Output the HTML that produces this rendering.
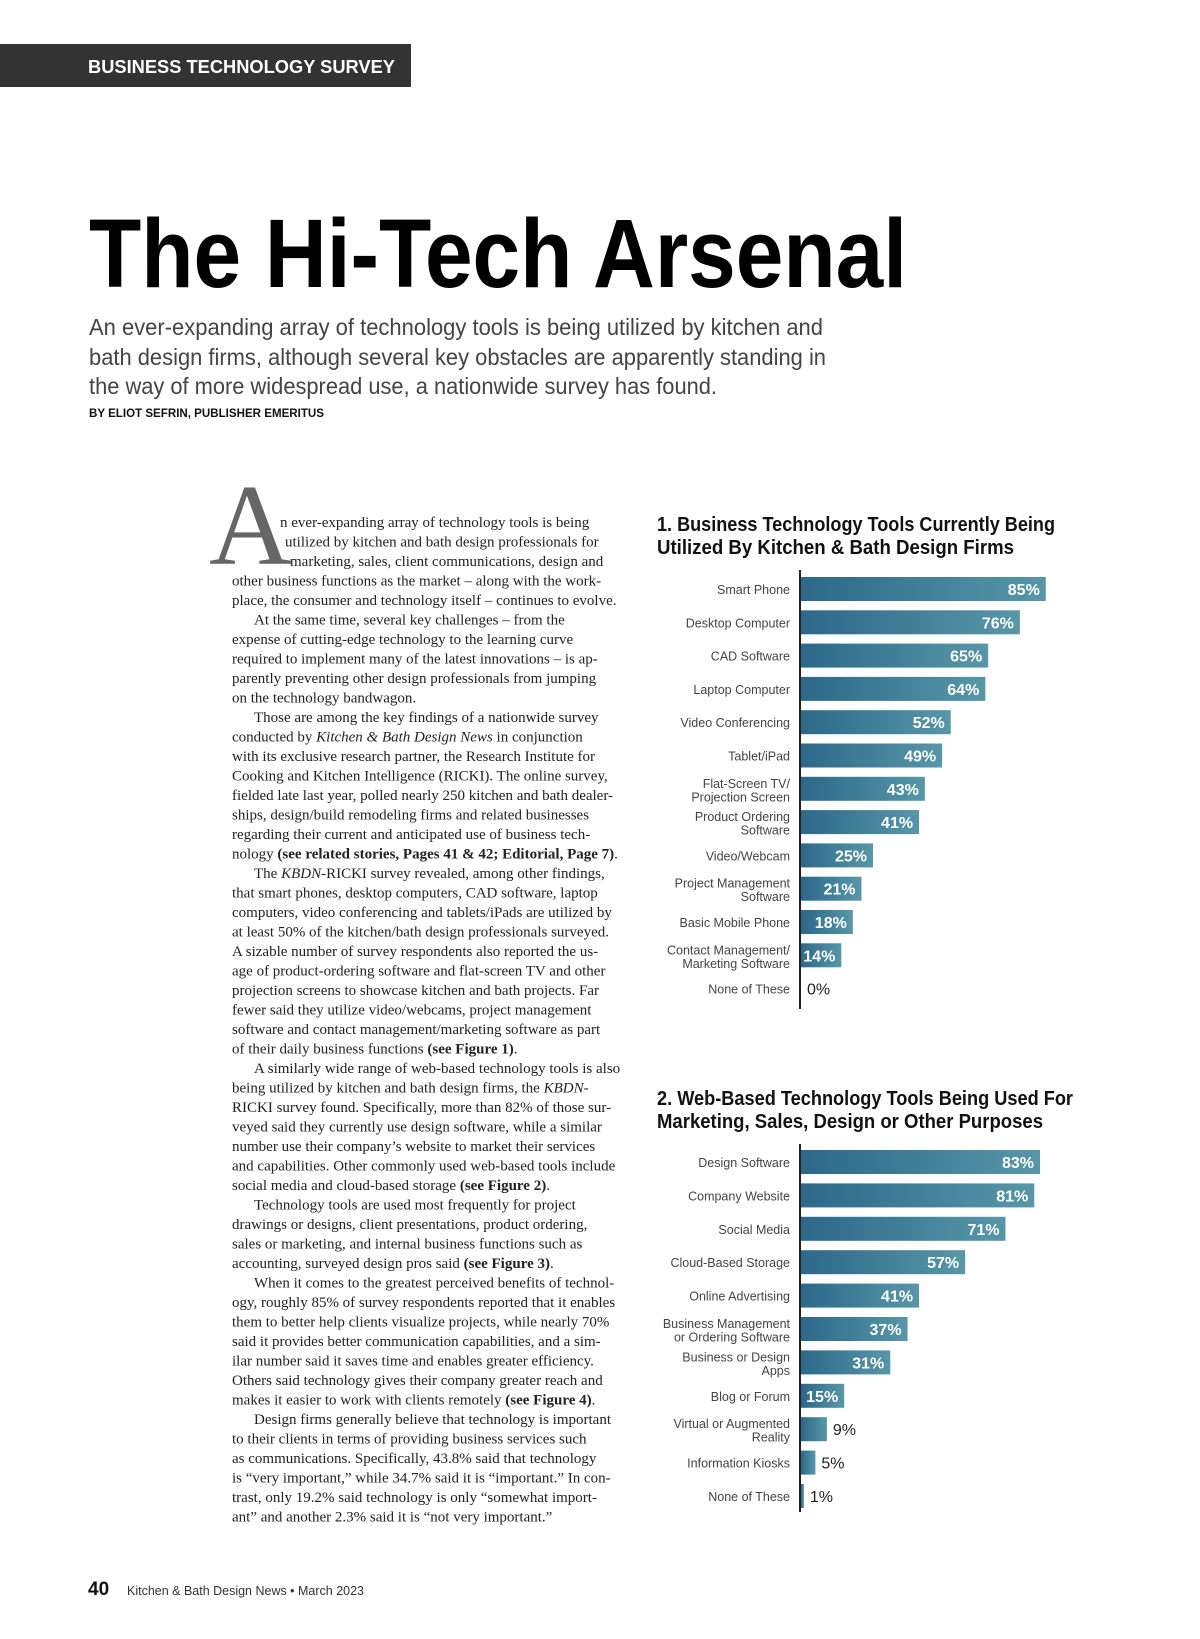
<!DOCTYPE html>
<html><head><meta charset="utf-8"><style>
html,body{margin:0;padding:0;background:#fff;}
svg{display:block;}
.sans{font-family:"Liberation Sans",sans-serif;}
.serif{font-family:"Liberation Serif",serif;}
</style></head><body>
<svg id="page" width="1200" height="1639" viewBox="0 0 1200 1639" xmlns="http://www.w3.org/2000/svg">
<defs>
<linearGradient id="barGrad" x1="0" x2="1" y1="0" y2="0">
<stop offset="0" stop-color="#2c6889"/><stop offset="1" stop-color="#5797a8"/>
</linearGradient>
</defs>
<rect x="0" y="44" width="411" height="43" fill="#333"/>
<text x="88" y="73" class="sans" font-size="18" font-weight="bold" fill="#fff" textLength="307" lengthAdjust="spacingAndGlyphs">BUSINESS TECHNOLOGY SURVEY</text>
<text x="89" y="287" class="sans" font-size="97" font-weight="bold" fill="#000" textLength="818" lengthAdjust="spacingAndGlyphs">The Hi-Tech Arsenal</text>
<g class="sans" font-size="23" fill="#444">
<text x="89" y="335" textLength="734" lengthAdjust="spacingAndGlyphs">An ever-expanding array of technology tools is being utilized by kitchen and</text>
<text x="89" y="365" textLength="737" lengthAdjust="spacingAndGlyphs">bath design firms, although several key obstacles are apparently standing in</text>
<text x="89" y="394" textLength="628" lengthAdjust="spacingAndGlyphs">the way of more widespread use, a nationwide survey has found.</text>
</g>
<text x="89" y="417" class="sans" font-size="12" font-weight="bold" fill="#111" textLength="235" lengthAdjust="spacingAndGlyphs">BY ELIOT SEFRIN, PUBLISHER EMERITUS</text>
<text x="209" y="564" class="serif" font-size="115" fill="#666">A</text>
<g id="body" class="serif" font-size="15" fill="#222"></g>
<g id="chart1">
<text x="657" y="531" class="sans" font-size="20" font-weight="bold" fill="#111" textLength="398" lengthAdjust="spacingAndGlyphs">1. Business Technology Tools Currently Being</text>
<text x="657" y="554" class="sans" font-size="20" font-weight="bold" fill="#111" textLength="357" lengthAdjust="spacingAndGlyphs">Utilized By Kitchen &amp; Bath Design Firms</text>
</g>
<g id="chart2">
<text x="657" y="1105" class="sans" font-size="20" font-weight="bold" fill="#111" textLength="416" lengthAdjust="spacingAndGlyphs">2. Web-Based Technology Tools Being Used For</text>
<text x="657" y="1128" class="sans" font-size="20" font-weight="bold" fill="#111" textLength="386" lengthAdjust="spacingAndGlyphs">Marketing, Sales, Design or Other Purposes</text>
</g>
<text x="88" y="1595" class="sans" font-size="19" font-weight="bold" fill="#111">40</text>
<text x="127" y="1595" class="sans" font-size="13" fill="#333" textLength="237" lengthAdjust="spacingAndGlyphs">Kitchen &amp; Bath Design News  •  March 2023</text>
</svg>
<script>
var NS="http://www.w3.org/2000/svg";
// Figure 1 data
var fig1Categories=[["Smart Phone"],["Desktop Computer"],["CAD Software"],["Laptop Computer"],["Video Conferencing"],["Tablet/iPad"],["Flat-Screen TV/","Projection Screen"],["Product Ordering","Software"],["Video/Webcam"],["Project Management","Software"],["Basic Mobile Phone"],["Contact Management/","Marketing Software"],["None of These"]];
var fig1Values=[85,76,65,64,52,49,43,41,25,21,18,14,0];
// Figure 2 data
var fig2Categories=[["Design Software"],["Company Website"],["Social Media"],["Cloud-Based Storage"],["Online Advertising"],["Business Management","or Ordering Software"],["Business or Design","Apps"],["Blog or Forum"],["Virtual or Augmented","Reality"],["Information Kiosks"],["None of These"]];
var fig2Values=[83,81,71,57,41,37,31,15,9,5,1];

var bodyLines=[
[280,"n ever-expanding array of technology tools is being"],
[285,"utilized by kitchen and bath design professionals for"],
[290,"marketing, sales, client communications, design and"],
[0,"other business functions as the market – along with the work-"],
[0,"place, the consumer and technology itself – continues to evolve."],
[1,"At the same time, several key challenges – from the"],
[0,"expense of cutting-edge technology to the learning curve"],
[0,"required to implement many of the latest innovations – is ap-"],
[0,"parently preventing other design professionals from jumping"],
[0,"on the technology bandwagon."],
[1,"Those are among the key findings of a nationwide survey"],
[0,"conducted by <i>Kitchen &amp; Bath Design News</i> in conjunction"],
[0,"with its exclusive research partner, the Research Institute for"],
[0,"Cooking and Kitchen Intelligence (RICKI). The online survey,"],
[0,"fielded late last year, polled nearly 250 kitchen and bath dealer-"],
[0,"ships, design/build remodeling firms and related businesses"],
[0,"regarding their current and anticipated use of business tech-"],
[0,"nology <b>(see related stories, Pages 41 &amp; 42; Editorial, Page 7)</b>."],
[1,"The <i>KBDN</i>-RICKI survey revealed, among other findings,"],
[0,"that smart phones, desktop computers, CAD software, laptop"],
[0,"computers, video conferencing and tablets/iPads are utilized by"],
[0,"at least 50% of the kitchen/bath design professionals surveyed."],
[0,"A sizable number of survey respondents also reported the us-"],
[0,"age of product-ordering software and flat-screen TV and other"],
[0,"projection screens to showcase kitchen and bath projects. Far"],
[0,"fewer said they utilize video/webcams, project management"],
[0,"software and contact management/marketing software as part"],
[0,"of their daily business functions <b>(see Figure 1)</b>."],
[1,"A similarly wide range of web-based technology tools is also"],
[0,"being utilized by kitchen and bath design firms, the <i>KBDN</i>-"],
[0,"RICKI survey found. Specifically, more than 82% of those sur-"],
[0,"veyed said they currently use design software, while a similar"],
[0,"number use their company’s website to market their services"],
[0,"and capabilities. Other commonly used web-based tools include"],
[0,"social media and cloud-based storage <b>(see Figure 2)</b>."],
[1,"Technology tools are used most frequently for project"],
[0,"drawings or designs, client presentations, product ordering,"],
[0,"sales or marketing, and internal business functions such as"],
[0,"accounting, surveyed design pros said <b>(see Figure 3)</b>."],
[1,"When it comes to the greatest perceived benefits of technol-"],
[0,"ogy, roughly 85% of survey respondents reported that it enables"],
[0,"them to better help clients visualize projects, while nearly 70%"],
[0,"said it provides better communication capabilities, and a sim-"],
[0,"ilar number said it saves time and enables greater efficiency."],
[0,"Others said technology gives their company greater reach and"],
[0,"makes it easier to work with clients remotely <b>(see Figure 4)</b>."],
[1,"Design firms generally believe that technology is important"],
[0,"to their clients in terms of providing business services such"],
[0,"as communications. Specifically, 43.8% said that technology"],
[0,"is “very important,” while 34.7% said it is “important.” In con-"],
[0,"trast, only 19.2% said technology is only “somewhat import-"],
[0,"ant” and another 2.3% said it is “not very important.”"]
];
var body=document.getElementById('body');
bodyLines.forEach(function(l,i){
  var x=l[0]>1?l[0]:(l[0]===1?254:232);
  var t=document.createElementNS(NS,'text');
  
  
  t.setAttribute('x',x);t.setAttribute('y',527+i*19.5);
  t.innerHTML=l[1].replace(/<i>/g,'<tspan font-style="italic">').replace(/<\/i>/g,'</tspan>').replace(/<b>/g,'<tspan font-weight="bold">').replace(/<\/b>/g,'</tspan>');
  body.appendChild(t);
  var maxW=628-x;
  var w=t.getComputedTextLength();
  if(w>maxW){t.setAttribute('textLength',maxW);t.setAttribute('lengthAdjust','spacingAndGlyphs');}
});

function xScale(v){return v*2.88;}
function drawChart(gid,cats,vals,firstCenter,pitch,axisTop,axisBottom){
  var g=document.getElementById(gid);
  var ax=800;
  var axis=document.createElementNS(NS,'line');
  
  
  axis.setAttribute('x1',ax);axis.setAttribute('x2',ax);axis.setAttribute('y1',axisTop);axis.setAttribute('y2',axisBottom);
  axis.setAttribute('stroke','#222');axis.setAttribute('stroke-width','2');
  g.appendChild(axis);
  vals.forEach(function(v,i){
    var cy=firstCenter+i*pitch;
    var w=xScale(v);
    if(w>0){
      var r=document.createElementNS(NS,'rect');
      
      
      r.setAttribute('x',ax+1);r.setAttribute('y',cy-12);r.setAttribute('width',w);r.setAttribute('height',24);
      r.setAttribute('fill','url(#barGrad)');
      g.appendChild(r);
    }
    var t=document.createElementNS(NS,'text');
    
    
    t.setAttribute('class','sans');t.setAttribute('font-size','16');
    t.setAttribute('y',cy+6);
    t.textContent=v+'%';
    if(v>=14){t.setAttribute('x',ax+1+w-6);t.setAttribute('text-anchor','end');t.setAttribute('fill','#fff');t.setAttribute('font-weight','bold');}
    else{t.setAttribute('x',ax+1+w+6);t.setAttribute('fill','#222');}
    g.appendChild(t);
    var lines=cats[i];
    lines.forEach(function(s,j){
      var lt=document.createElementNS(NS,'text');
      
      
      lt.setAttribute('class','sans');lt.setAttribute('font-size','12.5');lt.setAttribute('fill','#444');
      lt.setAttribute('x',790);lt.setAttribute('text-anchor','end');
      var y=lines.length===1?cy+5:cy-1+j*13.5;
      lt.setAttribute('y',y);
      lt.textContent=s;
      g.appendChild(lt);
    });
  });
}
drawChart('chart1',fig1Categories,fig1Values,589,33.3,570,1009);
drawChart('chart2',fig2Categories,fig2Values,1162,33.4,1144,1512);
</script>
</body></html>
